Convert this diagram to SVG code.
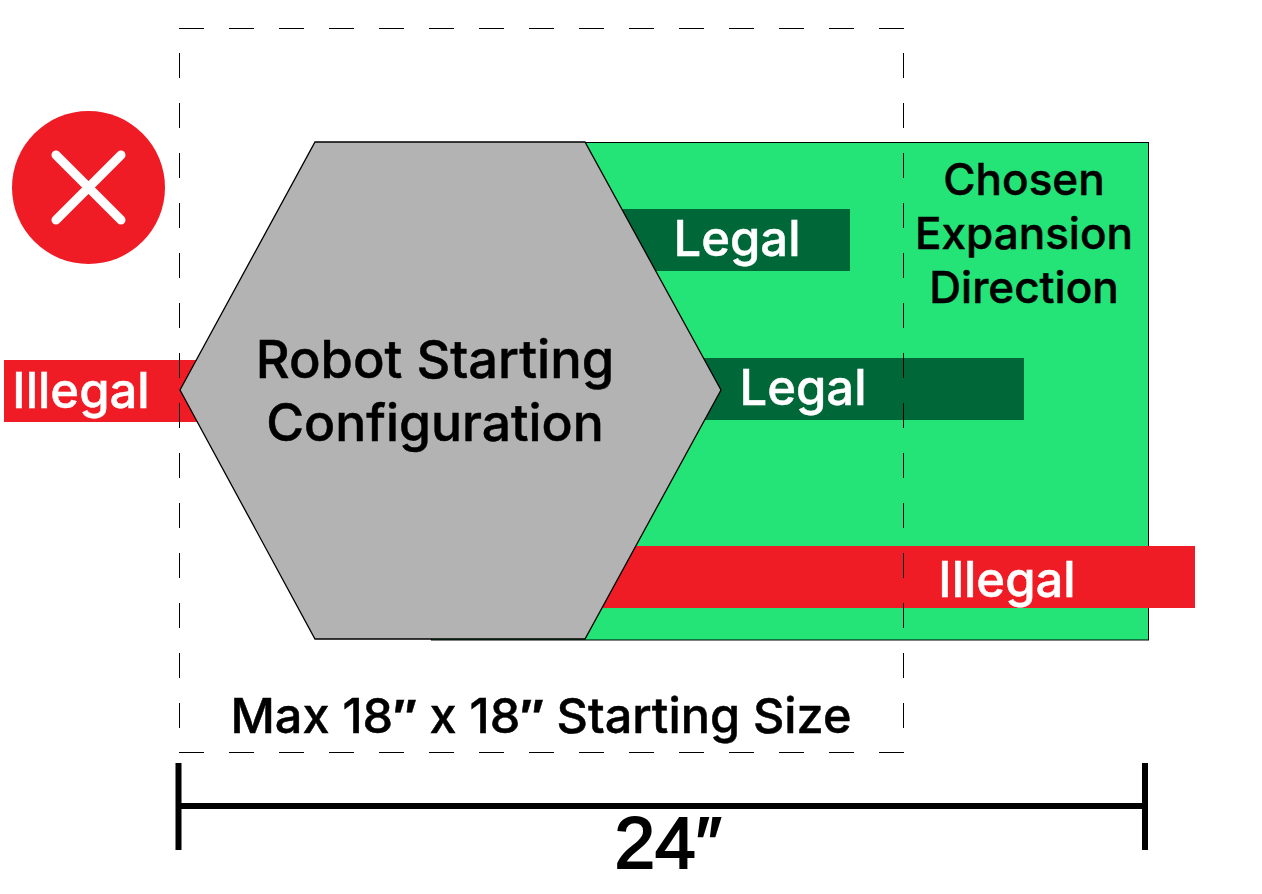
<svg xmlns="http://www.w3.org/2000/svg" width="1262" height="894" viewBox="0 0 1262 894">
<style>
text{font-family:Inter,"Noto Sans","Liberation Sans",sans-serif;font-weight:500;text-anchor:middle;stroke-width:.5}
.k{fill:#000;stroke:#000}.w{fill:#fff;stroke:#fff}
.q{font-family:"Liberation Sans",sans-serif;font-weight:700}
.d{font-family:"Liberation Sans",sans-serif;font-weight:400;stroke-width:2}
.dash{fill:none;stroke:#000;stroke-width:1;stroke-dasharray:25 25}
.dim{stroke:#000;stroke-width:6;fill:none}
</style>
<rect width="1262" height="894" fill="#fff"/>
<g id="expansion-area"><rect x="431.500" y="142.500" width="717" height="497.500" fill="#24e477" stroke="#000" stroke-width="1"/></g>
<g id="legal-top"><rect x="600" y="209" width="250" height="62" fill="#006838"/><text class="w" x="737" y="256" font-size="49">Legal</text></g>
<g id="legal-mid"><rect x="680" y="358" width="344" height="62" fill="#006838"/><text class="w" x="803" y="405" font-size="49">Legal</text></g>
<g id="illegal-bottom"><rect x="590" y="546" width="605" height="62" fill="#ef1c25"/><text class="w" x="1007" y="597" font-size="49">Illegal</text></g>
<g id="illegal-left"><rect x="4" y="360" width="200" height="62" fill="#ef1c25"/><text class="w" x="81" y="408" font-size="49">Illegal</text></g>
<g id="robot"><polygon points="315,142 585,142 721,390 585,639 315,639 180,390" fill="#b3b3b3" stroke="#000" stroke-width="1.300"/><text class="k" x="435" y="378" font-size="52.400">Robot Starting</text><text class="k" x="435" y="441" font-size="51.600">Configuration</text></g>
<g id="start-size"><path class="dash" d="M179 28.500H904M179 752.500H904"/><path class="dash" stroke-dashoffset="25" d="M179.500 28V753M903.500 28V753"/><text class="k" x="541" y="733" font-size="48.600">Max 18<tspan class="q">″</tspan> x 18<tspan class="q">″</tspan> Starting Size</text></g>
<g id="direction-label"><text class="k" x="1024" y="194.500" font-size="44">Chosen</text><text class="k" x="1024" y="248.500" font-size="44">Expansion</text><text class="k" x="1024" y="302.500" font-size="44">Direction</text></g>
<g id="x-icon"><circle cx="88.500" cy="187.500" r="76.500" fill="#ef1c25"/><path d="M56 155 121 220M121 155 56 220" stroke="#fff" stroke-width="9" stroke-linecap="round"/></g>
<g id="connectors"><path class="dim" d="M178.500 763V850M1145 763V850M179 806H1145"/></g>
<g id="dimension"><text class="k d" x="668" y="868" font-size="73">24″</text></g>
</svg>
